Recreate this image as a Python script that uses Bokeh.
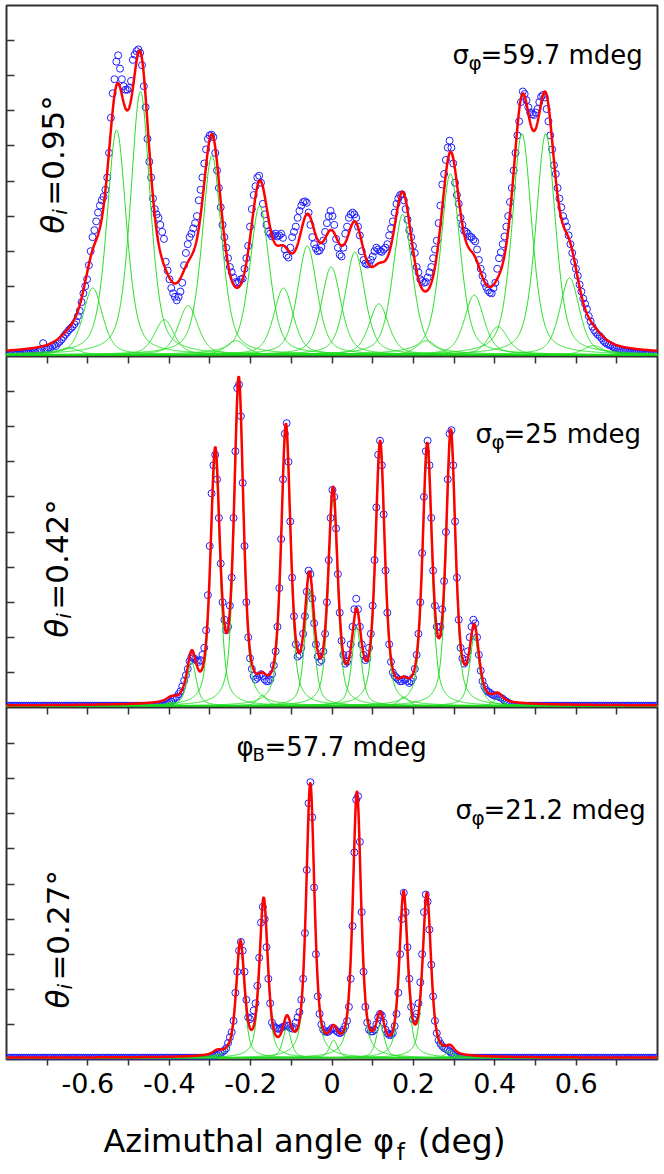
import numpy as np
from bokeh.plotting import figure
from bokeh.models import LinearAxis, FixedTicker, Range1d, Label
from bokeh.layouts import column
from bokeh.embed import file_html
from bokeh.resources import INLINE

# ======================= data =======================
x_ticks = [-0.7, -0.6, -0.5, -0.4, -0.3, -0.2, -0.1, 0.0, 0.1, 0.2, 0.3, 0.4, 0.5, 0.6, 0.7]
x_tick_labels = {-0.7: "", -0.6: "-0.6", -0.5: "", -0.4: "-0.4", -0.3: "", -0.2: "-0.2", -0.1: "",
                 0.0: "0", 0.1: "", 0.2: "0.2", 0.3: "", 0.4: "0.4", 0.5: "", 0.6: "0.6", 0.7: ""}
y_ticks = [1, 2, 3, 4, 5, 6, 7, 8, 9]

# measured points are sampled every 4.5 mdeg from -0.8 deg
x_start, x_step, n_points = -0.8, 0.0045, 356
baseline = 0.05

# ---- panel 1 : theta_i = 0.95 deg ----
p1_data = [
    0.05, 0.06, 0.05, 0.07, 0.06, 0.05, 0.08, 0.06, 0.07, 0.08,
    0.07, 0.09, 0.1, 0.08, 0.1, 0.12, 0.1, 0.13, 0.15, 0.2,
    0.38, 0.2, 0.22, 0.25, 0.24, 0.3, 0.33, 0.3, 0.38, 0.42,
    0.48, 0.55, 0.62, 0.68, 0.75, 0.8, 0.85, 0.92, 1.0, 1.15,
    1.3, 1.55, 1.8, 2.0, 2.2, 2.6, 3.0, 3.4, 3.6, 3.85,
    4.1, 4.3, 4.45, 4.55, 4.75, 5.1, 5.8, 6.8, 7.5, 7.9,
    8.4, 8.58, 8.2, 7.9, 7.7, 7.6, 7.6, 7.65, 7.85, 8.45,
    8.6, 8.7, 8.75, 8.65, 8.3, 7.7, 7.1, 6.2, 5.55, 5.1,
    4.5, 4.2, 4.05, 3.95, 3.75, 3.55, 3.35, 2.7, 2.45, 2.2,
    1.95, 1.8, 1.7, 1.6, 1.7, 1.85, 2.1, 2.6, 2.95, 3.2,
    3.4, 3.5, 3.65, 3.8, 4.0, 4.45, 4.75, 5.1, 5.5, 5.9,
    6.2, 6.3, 6.32, 6.25, 5.8, 5.3, 4.8, 4.25, 3.75, 3.4,
    3.1, 2.8, 2.55, 2.4, 2.25, 2.12, 2.1, 2.12, 2.2, 2.22,
    2.5, 2.8, 3.15, 3.7, 4.2, 4.6, 4.85, 5.1, 5.15, 4.95,
    4.35, 4.05, 3.75, 3.55, 3.5, 3.42, 3.45, 3.5, 3.42, 3.45,
    3.5, 3.38, 3.05, 2.88, 2.82, 3.1, 3.4, 3.55, 3.7, 3.95,
    4.15, 4.3, 4.4, 4.42, 4.38, 4.1, 3.75, 3.4, 3.2, 3.08,
    3.0, 3.02, 3.12, 3.3, 3.55, 3.8, 4.0, 4.15, 4.0, 3.75,
    3.35, 3.1, 2.9, 2.85, 3.1, 3.5, 3.7, 3.95, 4.05, 4.1,
    4.05, 3.95, 3.7, 3.45, 3.0, 2.75, 2.65, 2.62, 2.64, 2.75,
    2.85, 3.0, 3.1, 3.05, 3.0, 2.98, 3.05, 3.1, 3.2, 3.45,
    3.65, 3.85, 4.1, 4.35, 4.5, 4.6, 4.62, 4.45, 4.2, 3.9,
    3.6, 3.4, 3.15, 2.95, 2.55, 2.4, 2.2, 2.15, 2.1, 2.12,
    2.25, 2.4, 2.55, 2.8, 3.05, 3.3, 3.8, 4.3, 4.9, 5.2,
    5.6, 5.95, 6.15, 5.95, 5.5, 4.95, 4.6, 4.35, 3.95, 3.75,
    3.58, 3.55, 3.5, 3.42, 3.4, 3.33, 3.28, 3.05, 2.75, 2.5,
    2.3, 2.1, 1.98, 1.88, 1.82, 1.8, 1.95, 2.1, 2.5, 2.8,
    2.97, 3.2, 3.42, 3.7, 4.0, 4.4, 4.8, 5.3, 5.8, 6.3,
    6.7, 7.25, 7.55, 7.48, 7.3, 7.1, 6.95, 6.9, 6.88, 6.95,
    7.05, 7.25, 7.4, 7.45, 7.38, 7.05, 6.7, 6.3, 5.9, 5.45,
    5.2, 4.8, 4.5, 4.25, 4.0, 3.85, 3.7, 3.45, 3.2, 2.95,
    2.7, 2.5, 2.3, 2.05, 1.85, 1.65, 1.5, 1.35, 1.15, 1.0,
    0.85, 0.75, 0.68, 0.62, 0.58, 0.52, 0.45, 0.4, 0.36, 0.33,
    0.32, 0.28, 0.25, 0.24, 0.22, 0.2, 0.17, 0.16, 0.15, 0.14,
    0.12, 0.11, 0.1, 0.1, 0.09, 0.08, 0.08, 0.09, 0.07, 0.06,
    0.07, 0.06, 0.05, 0.06, 0.05, 0.05]
p1_centers = [-0.6466, -0.588, -0.5294, -0.4708, -0.4122, -0.3536, -0.295, -0.2364, -0.1778, -0.1192, -0.0606,
              -0.002, 0.0566, 0.1152, 0.1738, 0.2324, 0.291, 0.3496, 0.4082, 0.4668, 0.5254, 0.584, 0.6426]
p1_heights = [0.2, 1.9, 6.4, 7.5, 1.0, 1.4, 5.67, 0.4, 4.25, 1.9, 3.1,
              2.5, 2.93, 1.45, 4.0, 0.4, 5.16, 1.7, 0.8, 6.3, 6.3, 2.19, 0.26]
p1_fwhm, p1_eta = 0.057, 0.5

# ---- panel 2 : theta_i = 0.42 deg ----  (points 83..277, rest on the baseline)
p2_first = 83
p2_data = [
    0.05, 0.05, 0.05, 0.06, 0.08, 0.1, 0.13, 0.17, 0.22, 0.27,
    0.3, 0.38, 0.46, 0.6, 0.76, 0.92, 1.1, 1.32, 1.44, 1.4,
    1.38, 1.33, 1.3, 1.35, 1.5, 1.7, 2.2, 3.2, 4.6, 6.1,
    6.9, 7.2, 6.5, 5.4, 4.1, 3.0, 2.5, 2.2, 2.3, 2.9,
    3.7, 5.4, 7.3, 9.1, 9.2, 8.3, 6.4, 4.6, 3.0, 2.0,
    1.4, 1.1, 0.9, 0.8, 0.85, 0.9, 0.95, 0.9, 0.8, 0.75,
    0.75, 0.8, 0.95, 1.2, 1.6, 2.3, 3.4, 4.8, 6.5, 7.8,
    8.1, 7.0, 5.3, 3.7, 2.6, 1.8, 1.45, 1.5, 1.7, 2.1,
    2.6, 3.3, 3.9, 3.8, 3.1, 2.4, 1.8, 1.45, 1.3, 1.35,
    1.6, 2.1, 3.0, 4.2, 5.4, 6.2, 6.0, 5.1, 3.8, 2.7,
    1.9, 1.5, 1.25, 1.3, 1.5, 1.8, 2.3, 2.8, 3.1, 2.8,
    2.3, 1.8, 1.5, 1.35, 1.4, 1.7, 2.1, 2.9, 4.2, 5.7,
    7.2, 7.6, 6.9, 5.5, 3.9, 2.7, 1.8, 1.3, 1.0, 0.9,
    0.85, 0.8, 0.75, 0.75, 0.8, 0.8, 0.75, 0.7, 0.75, 0.85,
    1.1, 1.5, 2.1, 3.0, 4.4, 6.0, 7.3, 7.6, 6.9, 5.4,
    3.9, 2.9, 2.3, 2.1, 2.3, 2.8, 3.6, 5.0, 6.5, 7.8,
    7.9, 6.9, 5.3, 3.7, 2.5, 1.7, 1.4, 1.25, 1.35, 1.6,
    2.0, 2.3, 2.5, 2.4, 2.0, 1.5, 1.05, 0.75, 0.6, 0.5,
    0.45, 0.42, 0.38, 0.35, 0.33, 0.32, 0.3, 0.28, 0.25, 0.2,
    0.17, 0.14, 0.11, 0.08, 0.06]
p2_centers = [-0.395, -0.3449, -0.287, -0.2291, -0.1712, -0.1133, -0.0554, 0.0025, 0.0604, 0.1183,
              0.1762, 0.2341, 0.292, 0.3499, 0.4078]
p2_heights = [0.1, 1.25, 7.0, 9.05, 0.3, 7.75, 3.3, 5.9, 2.25, 7.3, 0.25, 7.15, 7.55, 2.0, 0.2]
p2_fwhm, p2_eta = 0.027, 0.6

# ---- panel 3 : theta_i = 0.27 deg ----  (points 108..247, rest on the baseline)
p3_first = 108
p3_data = [
    0.05, 0.05, 0.06, 0.07, 0.08, 0.09, 0.11, 0.13, 0.16, 0.19,
    0.22, 0.26, 0.32, 0.47, 0.63, 0.78, 1.1, 1.9, 2.5, 3.1,
    3.35, 3.1, 2.5, 1.7, 1.2, 1.15, 1.2, 1.4, 1.6, 2.1,
    2.9, 3.9, 4.35, 4.0, 3.2, 2.3, 1.6, 1.05, 0.95, 0.9,
    0.88, 0.87, 0.9, 0.93, 0.95, 0.97, 0.95, 0.9, 0.88, 0.92,
    1.05, 1.2, 1.35, 1.7, 2.3, 3.6, 5.4, 7.3, 7.9, 6.9,
    4.9, 3.0, 1.8, 1.3, 1.0, 0.85, 0.8, 0.78, 0.8, 0.85,
    0.9, 0.88, 0.82, 0.78, 0.75, 0.78, 0.85, 0.95, 1.1, 1.5,
    2.3, 3.8, 5.9, 7.4, 7.5, 6.2, 4.2, 2.5, 1.5, 1.05,
    0.85, 0.8, 0.8, 0.85, 1.0, 1.2, 1.3, 1.25, 1.05, 0.85,
    0.75, 0.7, 0.7, 0.75, 0.95, 1.3, 1.9, 3.0, 4.0, 4.75,
    4.2, 3.2, 2.3, 1.5, 1.15, 1.2, 1.3, 1.6, 2.2, 3.0,
    4.2, 4.7, 4.5, 3.7, 2.7, 1.8, 1.1, 0.75, 0.55, 0.45,
    0.38, 0.33, 0.3, 0.27, 0.23, 0.18, 0.14, 0.1, 0.07, 0.05]
p3_centers = [-0.2825, -0.2252, -0.1679, -0.1106, -0.0533, 0.004, 0.0613, 0.1186, 0.1759, 0.2332, 0.2905]
p3_heights = [0.1, 3.2, 4.4, 0.85, 7.7, 0.5, 7.45, 0.95, 4.55, 4.55, 0.2]
p3_fwhm, p3_eta = 0.024, 0.6

# ======================= drawing =======================
XR = (-0.8, 0.8)
xs = np.linspace(XR[0], XR[1], 1800)
xd = np.round(x_start + x_step * np.arange(n_points), 4)


def full_series(first, values):
    y = np.full(n_points, baseline)
    y[first:first + len(values)] = values
    return y


def component(x, c, a, fwhm, eta):
    u = (x - c) / (fwhm / 2.0)
    return a * (eta / (1.0 + u ** 2) + (1.0 - eta) * np.exp(-np.log(2.0) * u ** 2))


def fit_total(x, cs, hs, fwhm, eta):
    return baseline + sum(component(x, c, a, fwhm, eta) for c, a in zip(cs, hs))


FONT = "DejaVu Sans"
FRAME = "#333333"
W = 660


def quiet_axis(ax, tick_in, tick_out):
    ax.major_tick_in = tick_in
    ax.major_tick_out = tick_out
    ax.minor_tick_line_color = None
    ax.major_tick_line_color = FRAME
    ax.major_tick_line_width = 1.5
    ax.axis_line_color = None


def hide_labels(ax, ticks):
    ax.major_label_overrides = {t: "" for t in ticks}
    ax.major_label_text_color = None
    ax.major_label_text_font_size = "1px"
    ax.major_label_standoff = 0


def make_panel(height, ytop, ydata, cs, hs, fwhm, eta, top_ticks, bottom_axis, border_top, border_bottom):
    p = figure(width=W, height=height, output_backend="svg", toolbar_location=None,
               x_range=Range1d(*XR), y_range=Range1d(0, ytop),
               x_axis_location=None, y_axis_location=None,
               min_border_left=6, min_border_right=3, min_border_top=border_top,
               min_border_bottom=border_bottom)
    p.grid.visible = False
    p.outline_line_color = FRAME
    p.outline_line_width = 2

    ya = LinearAxis(ticker=FixedTicker(ticks=y_ticks))
    quiet_axis(ya, 8, 0)
    hide_labels(ya, y_ticks)
    p.add_layout(ya, "left")

    if top_ticks:
        ta = LinearAxis(ticker=FixedTicker(ticks=x_ticks))
        quiet_axis(ta, 7, 0)
        hide_labels(ta, x_ticks)
        p.add_layout(ta, "above")

    if bottom_axis:
        ba = LinearAxis(ticker=FixedTicker(ticks=x_ticks))
        quiet_axis(ba, 0, 6)
        ba.major_label_overrides = x_tick_labels
        ba.major_label_text_font = FONT
        ba.major_label_text_font_size = "27px"
        ba.major_label_text_color = "black"
        ba.major_label_standoff = 7
        p.add_layout(ba, "below")

    p.scatter(xd, ydata, marker="circle", size=7, fill_color=None, line_color="#2020ff", line_width=1)
    for c, a in zip(cs, hs):
        p.line(xs, baseline + component(xs, c, a, fwhm, eta), line_color="#22dd22", line_width=1)
    p.line(xs, fit_total(xs, cs, hs, fwhm, eta), line_color="#ff0000", line_width=2.5)
    return p


def add_text(p, x, y, pieces, angle=0.0):
    for t, sz, st, dx, dy in pieces:
        p.add_layout(Label(x=x, y=y, text=t, x_offset=dx, y_offset=dy, angle=angle,
                           text_font=FONT, text_font_size=f"{sz}px", text_font_style=st,
                           text_color="black", text_align="left", text_baseline="alphabetic"))


p1 = make_panel(356, 10.0, np.array(p1_data), p1_centers, p1_heights, p1_fwhm, p1_eta,
                top_ticks=False, bottom_axis=False, border_top=5, border_bottom=0)
p2 = make_panel(351, 10.0, full_series(p2_first, p2_data), p2_centers, p2_heights, p2_fwhm, p2_eta,
                top_ticks=True, bottom_axis=False, border_top=0, border_bottom=0)
p3 = make_panel(402, 352 / 35.1, full_series(p3_first, p3_data), p3_centers, p3_heights, p3_fwhm, p3_eta,
                top_ticks=True, bottom_axis=True, border_top=0, border_bottom=50)

p4 = figure(width=W, height=60, output_backend="svg", toolbar_location=None,
            x_range=Range1d(*XR), y_range=Range1d(0, 1), x_axis_location=None, y_axis_location=None,
            min_border_left=6, min_border_right=3, min_border_top=0, min_border_bottom=0)
p4.grid.visible = False
p4.outline_line_color = None

ang = np.pi / 2


def theta_pieces(val):
    return [("θ", 31, "italic", 0, 0), ("i", 20, "italic", 7, 19), ("=" + val + "°", 31, "normal", 0, 28)]


def sigma_pieces(val):
    return [("σ", 26, "normal", 0, 6), ("φ", 20, "normal", 16, -2), ("=" + val + " mdeg", 26, "normal", 28, 6)]


add_text(p1, -0.6845, 3.50, theta_pieces("0.95"), angle=ang)
add_text(p2, -0.6747, 1.99, theta_pieces("0.42"), angle=ang)
add_text(p3, -0.6722, 1.45, theta_pieces("0.27"), angle=ang)
add_text(p1, 0.2962, 8.43, sigma_pieces("59.7"))
add_text(p2, 0.3527, 7.61, sigma_pieces("25"))
add_text(p3, 0.3035, 6.95, sigma_pieces("21.2"))
add_text(p3, -0.2347, 8.72, [("φ", 26, "normal", 0, 6), ("B", 18, "normal", 16, -1),
                             ("=57.7 mdeg", 26, "normal", 28, 6)])
# x-axis title, pieces anchored where the reference puts them
add_text(p4, -0.5617, 0.467, [("Azimuthal angle φ", 32, "normal", 0, 0)])
add_text(p4, 0.1592, 0.467, [("f", 23, "normal", 0, -11)])
add_text(p4, 0.2105, 0.467, [("(deg)", 33, "normal", 0, 0)])

layout = column(p1, p2, p3, p4, spacing=0)
open("out.html", "w").write(file_html(layout, INLINE))
